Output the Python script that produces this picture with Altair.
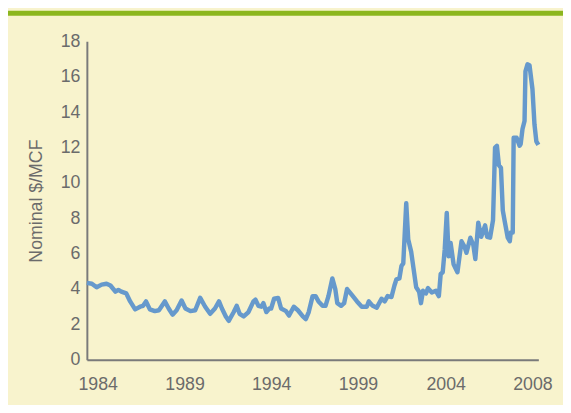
import altair as alt
import pandas as pd

# Fractional year of each reading and nominal price ($/MCF)
years = [
    1984.00, 1984.27, 1984.53, 1984.80, 1985.07, 1985.28, 1985.55, 1985.71, 1985.87, 1986.14,
    1986.35, 1986.62, 1986.89, 1987.05, 1987.21, 1987.42, 1987.69, 1987.91, 1988.23, 1988.44,
    1988.65, 1988.87, 1989.14, 1989.35, 1989.62, 1989.88, 1990.15, 1990.42, 1990.69, 1990.95,
    1991.17, 1991.33, 1991.54, 1991.70, 1991.97, 1992.13, 1992.29, 1992.51, 1992.77, 1993.04,
    1993.15, 1993.31, 1993.47, 1993.58, 1993.74, 1993.90, 1994.00, 1994.16, 1994.38, 1994.54,
    1994.81, 1994.97, 1995.23, 1995.45, 1995.72, 1995.88, 1996.04, 1996.25, 1996.41, 1996.57,
    1996.79, 1996.95, 1997.11, 1997.32, 1997.48, 1997.59, 1997.80, 1997.96, 1998.12, 1998.39,
    1998.66, 1998.92, 1999.19, 1999.30, 1999.51, 1999.73, 1999.99, 2000.16, 2000.32, 2000.53,
    2000.69, 2000.80, 2000.96, 2001.07, 2001.17, 2001.33, 2001.44, 2001.60, 2001.87, 2002.03,
    2002.13, 2002.24, 2002.40, 2002.51, 2002.72, 2002.94, 2003.10, 2003.20, 2003.31, 2003.42,
    2003.53, 2003.63, 2003.74, 2003.90, 2004.11, 2004.33, 2004.49, 2004.60, 2004.81, 2004.97,
    2005.08, 2005.24, 2005.40, 2005.61, 2005.72, 2005.88, 2006.04, 2006.15, 2006.25, 2006.36,
    2006.47, 2006.57, 2006.68, 2006.84, 2006.95, 2007.00, 2007.11, 2007.16, 2007.32, 2007.48,
    2007.54, 2007.64, 2007.75, 2007.80, 2007.91, 2008.02, 2008.18, 2008.29, 2008.39, 2008.50,
]
prices = [
    4.35, 4.30, 4.10, 4.25, 4.30, 4.20, 3.85, 3.95, 3.85, 3.75,
    3.30, 2.85, 3.00, 3.05, 3.30, 2.85, 2.75, 2.80, 3.30, 2.90,
    2.55, 2.80, 3.35, 2.90, 2.75, 2.80, 3.50, 3.00, 2.60, 2.90,
    3.30, 2.90, 2.45, 2.20, 2.70, 3.05, 2.60, 2.45, 2.70, 3.30,
    3.40, 3.05, 3.00, 3.20, 2.70, 2.90, 2.90, 3.45, 3.50, 2.90,
    2.75, 2.50, 3.00, 2.80, 2.45, 2.30, 2.70, 3.60, 3.60, 3.30,
    3.05, 3.05, 3.60, 4.60, 4.00, 3.20, 3.05, 3.20, 4.00, 3.65,
    3.30, 3.00, 3.00, 3.30, 3.05, 2.95, 3.45, 3.30, 3.60, 3.55,
    4.20, 4.55, 4.60, 5.30, 5.45, 8.85, 6.80, 6.10, 4.10, 3.85,
    3.20, 3.90, 3.75, 4.05, 3.80, 3.90, 3.60, 4.85, 4.95, 6.25,
    8.30, 5.85, 6.60, 5.40, 4.95, 6.70, 6.40, 6.05, 6.90, 6.50,
    5.70, 7.75, 6.95, 7.60, 6.95, 6.90, 7.90, 12.00, 12.10, 11.00,
    10.85, 8.45, 7.80, 6.90, 6.70, 7.20, 7.20, 12.55, 12.55, 12.10,
    12.20, 13.05, 13.50, 16.30, 16.70, 16.65, 15.30, 13.30, 12.35, 12.15,
]

# x-axis tick positions and their labels
tick_positions = [1984.59, 1989.30, 1994.00, 1998.71, 2003.47, 2008.18]
tick_labels = ["1984", "1989", "1994", "1999", "2004", "2008"]
y_ticks = [0, 2, 4, 6, 8, 10, 12, 14, 16, 18]

df = pd.DataFrame({"year": years, "price": prices})

FONT = "Liberation Sans"
TXT = "#6b6b6b"
AXIS = "#7a7a7a"

label_expr = "[" + ",".join(f"'{t}'" for t in tick_labels) + "][indexof([" + ",".join(
    str(p) for p in tick_positions) + "], datum.value)]"

line = alt.Chart(df).mark_line(color="#6699CC", strokeWidth=4.5, strokeJoin="round").encode(
    x=alt.X("year:Q",
            scale=alt.Scale(domain=[1984.0, 2008.5], nice=False, zero=False),
            axis=alt.Axis(values=tick_positions, labelExpr=label_expr, title=None,
                          grid=False, ticks=False, tickSize=0, domainColor=AXIS,
                          domainWidth=2, labelFont=FONT, labelFontSize=18,
                          labelColor=TXT, labelPadding=16, labelFlush=False)),
    y=alt.Y("price:Q",
            scale=alt.Scale(domain=[0, 18], nice=False),
            axis=alt.Axis(values=y_ticks, title="Nominal $/MCF", grid=False,
                          ticks=False, tickSize=0, domainColor=AXIS, domainWidth=2,
                          labelFont=FONT, labelFontSize=18, labelColor=TXT,
                          labelPadding=7, titleFont=FONT, titleFontSize=18,
                          titleFontWeight="normal", titleColor=TXT, titleX=-46,
                          titleBaseline="alphabetic")),
)

band = alt.Chart(pd.DataFrame({"a": [0]})).mark_rect(color="#8CB61E").encode(
    x=alt.value(-80), x2=alt.value(483), y=alt.value(-31), y2=alt.value(-26)
)

chart = alt.layer(band, line).properties(
    width=458, height=323,
    background="#F8F3CD",
    padding={"left": 80, "top": 31, "right": 25, "bottom": 43},
    autosize=alt.AutoSizeParams(type="none"),
).configure_view(stroke=None)

chart.save("out.html", embed_options={"renderer": "svg", "actions": False})
